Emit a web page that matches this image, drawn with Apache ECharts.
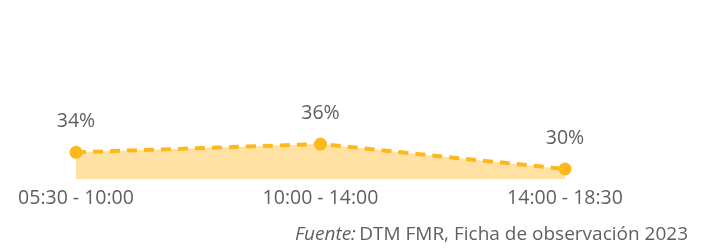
<!DOCTYPE html>
<html lang="es">
<head>
    <meta charset="UTF-8">
    <title></title>
    <style type="text/css">
        html,
        body,
        .canvas {
            padding: 0;
            margin: 0;
            overflow: hidden;
            background-color: #ffffff;
            width: 100%;
            height: 100%;
        }
    </style>
</head>
<body>
<div class="canvas" id="chart"></div>
<script type="text/javascript" src="https://cdn.jsdelivr.net/npm/echarts@6/dist/echarts.min.js"></script>
<script>
    const categories = ['05:30 - 10:00', '10:00 - 14:00', '14:00 - 18:30'];
    const values = [34, 36, 30];
    const sourceLabel = 'Fuente:';
    const sourceText = 'DTM FMR, Ficha de observación 2023';

    const font = '"Open Sans", "Noto Sans", sans-serif';
    const chart = echarts.init(document.getElementById('chart'));

    chart.setOption({
        animation: false,
        grid: {left: 76, right: 141, top: 0, bottom: 71},
        xAxis: {
            type: 'category',
            data: categories,
            boundaryGap: false,
            axisLine: {show: false},
            axisTick: {show: false},
            axisLabel: {
                margin: 9,
                fontSize: 19.5,
                color: '#5f5f5f',
                fontFamily: font
            }
        },
        yAxis: {
            type: 'value',
            min: 27.6,
            max: 70.6,
            show: false
        },
        series: [{
            type: 'line',
            data: values,
            smooth: false,
            symbol: 'circle',
            symbolSize: 13,
            itemStyle: {color: '#FFB81C'},
            lineStyle: {color: '#FFB81C', width: 4, type: [10, 7]},
            areaStyle: {color: '#FFE1A3', opacity: 1},
            label: {
                show: true,
                position: 'top',
                distance: 14,
                formatter: '{c}%',
                fontSize: 19.5,
                color: '#5f5f5f',
                fontFamily: font
            }
        }],
        graphic: [{
            type: 'text',
            right: 18,
            top: 225,
            style: {
                rich: {
                    i: {fontStyle: 'italic', fontSize: 19, fill: '#5f5f5f', fontFamily: font},
                    n: {fontSize: 19, fill: '#5f5f5f', fontFamily: font}
                },
                text: '{i|' + sourceLabel + '} {n|' + sourceText + '}'
            }
        }]
    });
</script>
</body>
</html>
